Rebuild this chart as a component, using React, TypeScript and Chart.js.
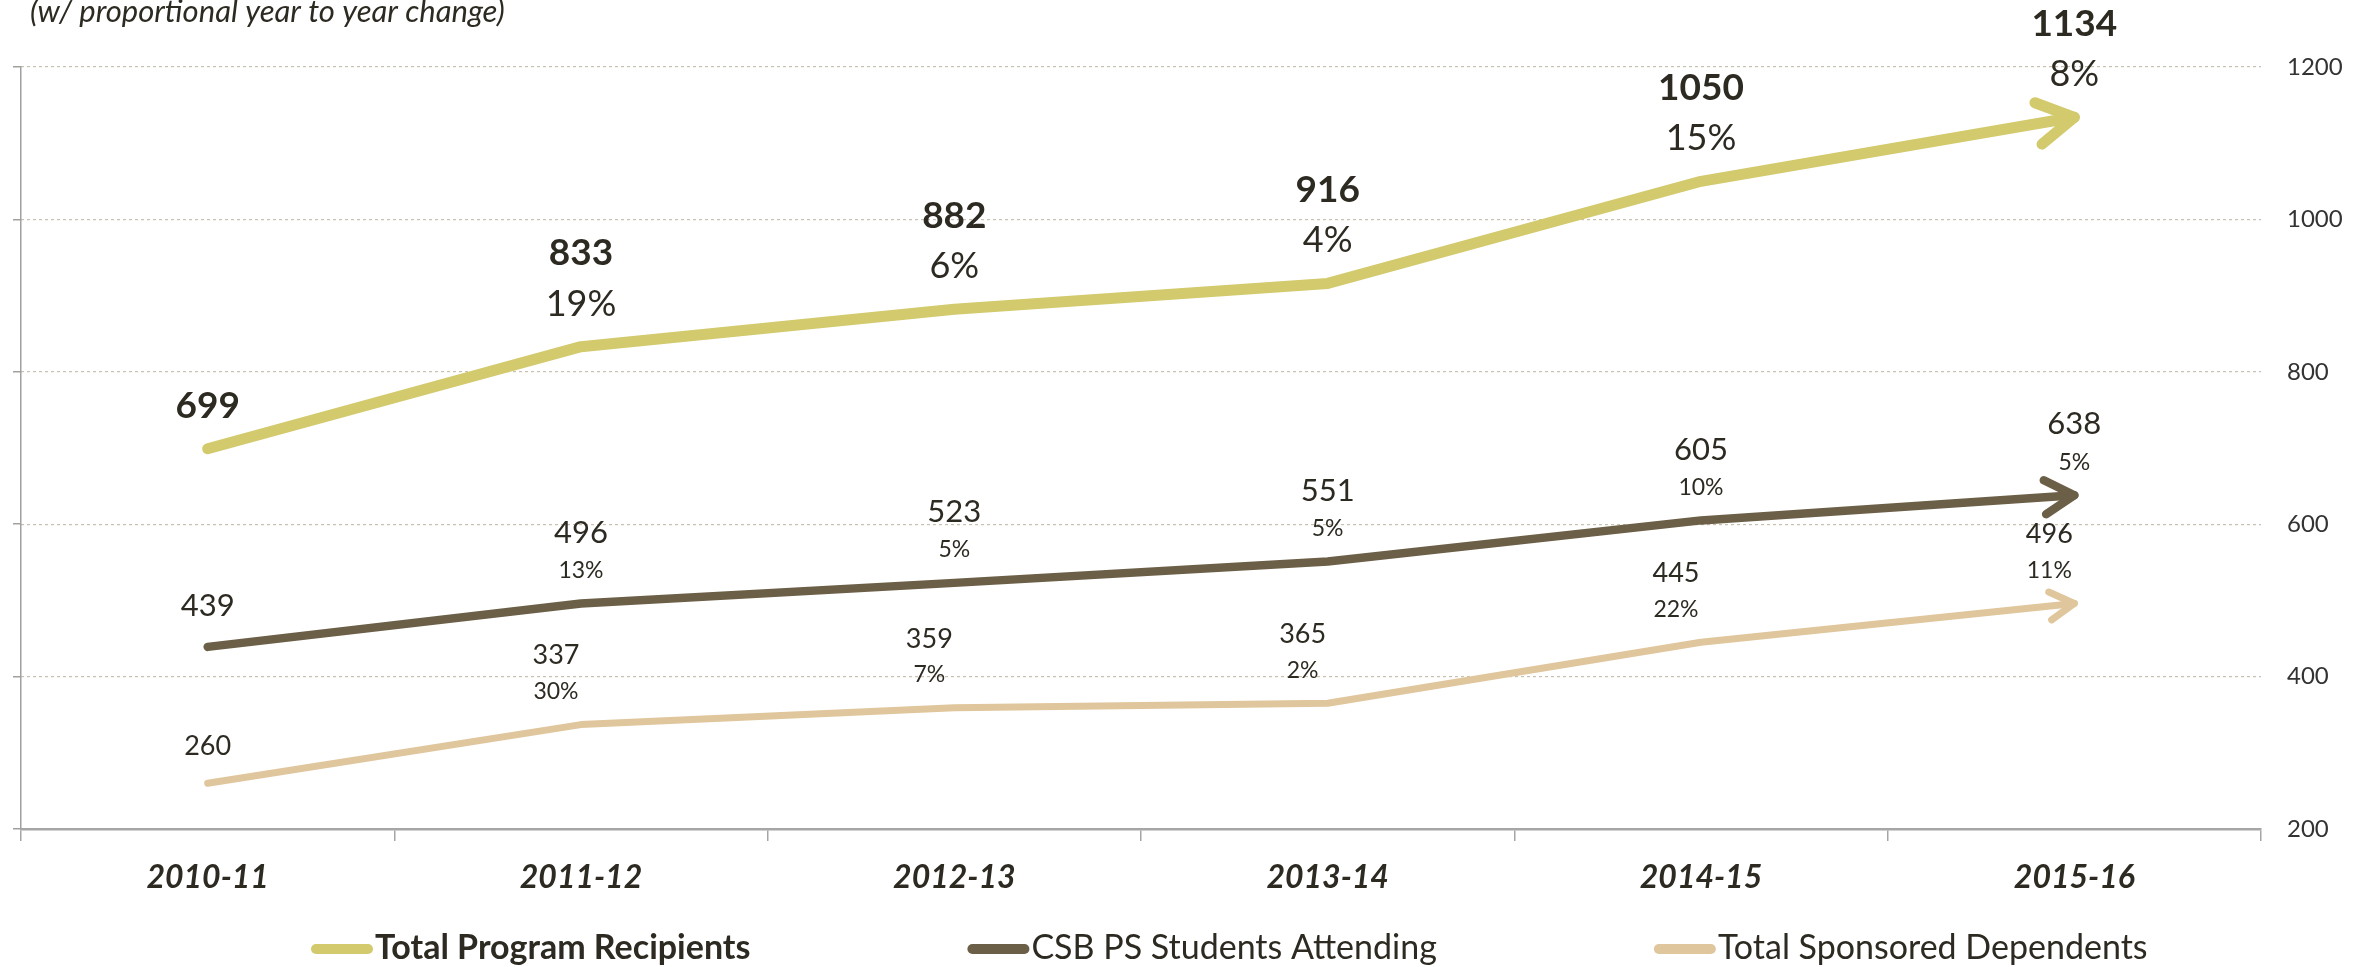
import React, { useEffect, useRef } from "react";
import { Chart, registerables } from "chart.js";

Chart.register(...registerables);

// ---------- data ----------
const categories = ["2010-11", "2011-12", "2012-13", "2013-14", "2014-15", "2015-16"];
const totalRecipients = [699, 833, 882, 916, 1050, 1134];
const csbStudents = [439, 496, 523, 551, 605, 638];
const sponsoredDependents = [260, 337, 359, 365, 445, 496];
const totalChange = ["", "19%", "6%", "4%", "15%", "8%"];
const csbChange = ["", "13%", "5%", "5%", "10%", "5%"];
const sponsoredChange = ["", "30%", "7%", "2%", "22%", "11%"];
const yTicks = [200, 400, 600, 800, 1000, 1200];
const seriesNames = [
  "Total Program Recipients",
  "CSB PS Students Attending",
  "Total Sponsored Dependents",
];
const subtitle = "(w/ proportional year to year change)";

// ---------- styles ----------
const FONT = "Lato, 'Open Sans', 'DejaVu Sans', sans-serif";
const TEXT = "#2d2a22";
const COLORS = ["#D2CA6C", "#6B5F47", "#E0C69C"];
const WIDTHS = [11, 8.5, 7];
const ARROW_LEN = [42, 34, 28];
const CHANGES = [totalChange, csbChange, sponsoredChange];
const LABEL_STYLES = [
  { valueSize: 37, valueWeight: "bold", pctSize: 36, valueDy: -95, firstDy: -44, pctDy: -44, dx: 0 },
  { valueSize: 31, valueWeight: "normal", pctSize: 23, valueDy: -72, firstDy: -42, pctDy: -34, dx: 0 },
  { valueSize: 27, valueWeight: "normal", pctSize: 23, valueDy: -70, firstDy: -38, pctDy: -34, dx: -25 },
];

function drawCentered(ctx: CanvasRenderingContext2D, text: string, x: number, cy: number, size: number, weight: string, style = "normal") {
  ctx.font = `${style} ${weight} ${size}px ${FONT}`;
  ctx.textAlign = "center";
  ctx.textBaseline = "alphabetic";
  ctx.fillText(text, x, cy + size * 0.36);
}

const annotationsPlugin = {
  id: "annotations",
  afterDatasetsDraw(chart: any) {
    const ctx: CanvasRenderingContext2D = chart.ctx;
    ctx.save();
    // arrow heads
    chart.data.datasets.forEach((ds: any, i: number) => {
      const meta = chart.getDatasetMeta(i);
      const pts = meta.data;
      if (pts.length < 2) return;
      const a = pts[pts.length - 2];
      const b = pts[pts.length - 1];
      const ang = Math.atan2(a.y - b.y, a.x - b.x);
      const spread = (30 * Math.PI) / 180;
      const L = ARROW_LEN[i];
      ctx.strokeStyle = ds.borderColor;
      ctx.lineWidth = ds.borderWidth;
      ctx.lineCap = "round";
      ctx.lineJoin = "round";
      ctx.beginPath();
      ctx.moveTo(b.x + L * Math.cos(ang + spread), b.y + L * Math.sin(ang + spread));
      ctx.lineTo(b.x, b.y);
      ctx.lineTo(b.x + L * Math.cos(ang - spread), b.y + L * Math.sin(ang - spread));
      ctx.stroke();
    });
    // value labels
    ctx.fillStyle = TEXT;
    chart.data.datasets.forEach((ds: any, i: number) => {
      const st = LABEL_STYLES[i];
      const meta = chart.getDatasetMeta(i);
      meta.data.forEach((pt: any, j: number) => {
        const x = pt.x + (j === 0 ? 0 : st.dx);
        const val = String(ds.data[j]);
        const pct = CHANGES[i][j];
        if (j === 0 || !pct) {
          drawCentered(ctx, val, x, pt.y + st.firstDy, st.valueSize, st.valueWeight);
        } else {
          drawCentered(ctx, val, x, pt.y + st.valueDy, st.valueSize, st.valueWeight);
          drawCentered(ctx, pct, x, pt.y + st.pctDy, st.pctSize, "normal");
        }
      });
    });
    ctx.restore();
  },
  afterDraw(chart: any) {
    const ctx: CanvasRenderingContext2D = chart.ctx;
    ctx.save();
    // subtitle
    ctx.fillStyle = TEXT;
    ctx.font = `italic normal 31px ${FONT}`;
    ctx.textAlign = "left";
    ctx.textBaseline = "alphabetic";
    ctx.fillText(subtitle, 30, 22);
    // legend
    const legendY = 949;
    const swatch = 62;
    const gapAfterSwatch = 2;
    const gapBetween = 217;
    let x = 311;
    chart.data.datasets.forEach((ds: any, i: number) => {
      ctx.strokeStyle = ds.borderColor;
      ctx.lineWidth = 10;
      ctx.lineCap = "round";
      ctx.beginPath();
      ctx.moveTo(x + 5, legendY);
      ctx.lineTo(x + swatch - 5, legendY);
      ctx.stroke();
      x += swatch + gapAfterSwatch;
      ctx.font = `normal ${i === 0 ? "bold" : "normal"} 34px ${FONT}`;
      ctx.fillStyle = TEXT;
      ctx.textAlign = "left";
      ctx.textBaseline = "alphabetic";
      ctx.fillText(ds.label, x, legendY + 10);
      x += ctx.measureText(ds.label).width + gapBetween;
    });
    ctx.restore();
  },
};

export default function App() {
  const ref = useRef<HTMLCanvasElement | null>(null);

  useEffect(() => {
    if (!ref.current) return;
    const series = [totalRecipients, csbStudents, sponsoredDependents];
    const chart = new Chart(ref.current, {
      type: "line",
      data: {
        labels: categories,
        datasets: series.map((d, i) => ({
          label: seriesNames[i],
          data: d,
          yAxisID: "y",
          borderColor: COLORS[i],
          backgroundColor: COLORS[i],
          borderWidth: WIDTHS[i],
          borderCapStyle: "round" as const,
          borderJoinStyle: "round" as const,
          pointRadius: 0,
          pointHoverRadius: 0,
          tension: 0,
          fill: false,
        })),
      },
      options: {
        responsive: false,
        animation: false,
        devicePixelRatio: 1,
        layout: { padding: { top: 67, left: 0, right: 0, bottom: 0 } },
        plugins: {
          legend: { display: false },
          title: { display: false },
          tooltip: { enabled: false },
        },
        scales: {
          x: {
            type: "category",
            offset: true,
            grid: {
              offset: true,
              drawOnChartArea: false,
              drawTicks: true,
              tickLength: 12,
              color: "#A6A6A6",
              lineWidth: 1.5,
            },
            border: { display: true, color: "#A6A6A6", width: 2.5 },
            ticks: {
              color: TEXT,
              padding: 17,
              font: { family: FONT, size: 32, weight: "bold", style: "italic" },
            },
            afterFit: (s: any) => {
              s.height = 138;
            },
          },
          yl: {
            type: "linear",
            position: "left",
            min: 200,
            max: 1200,
            ticks: { display: false, stepSize: 200 },
            grid: {
              drawOnChartArea: false,
              drawTicks: true,
              tickLength: 8,
              color: "#A0A0A0",
              lineWidth: 1.5,
            },
            border: { display: true, color: "#A0A0A0", width: 1.5 },
            afterFit: (s: any) => {
              s.width = 21;
            },
          },
          y: {
            type: "linear",
            position: "right",
            min: yTicks[0],
            max: yTicks[yTicks.length - 1],
            afterBuildTicks: (s: any) => {
              s.ticks = yTicks.map((v) => ({ value: v }));
            },
            ticks: {
              color: "#333333",
              padding: 26,
              font: { family: FONT, size: 24 },
              callback: (v: any) => String(v),
            },
            grid: {
              drawTicks: false,
              color: "#C9C1B0",
              lineWidth: 1.2,
            },
            border: { display: false, dash: [3, 3] },
            afterFit: (s: any) => {
              s.width = 110;
            },
          },
        },
      } as any,
      plugins: [annotationsPlugin],
    });
    return () => chart.destroy();
  }, []);

  return (
    <div style={{ position: "fixed", left: 0, top: 0, width: 2371, height: 967, background: "#ffffff" }}>
      <canvas ref={ref} width={2371} height={967} style={{ display: "block", width: 2371, height: 967 }} />
    </div>
  );
}
